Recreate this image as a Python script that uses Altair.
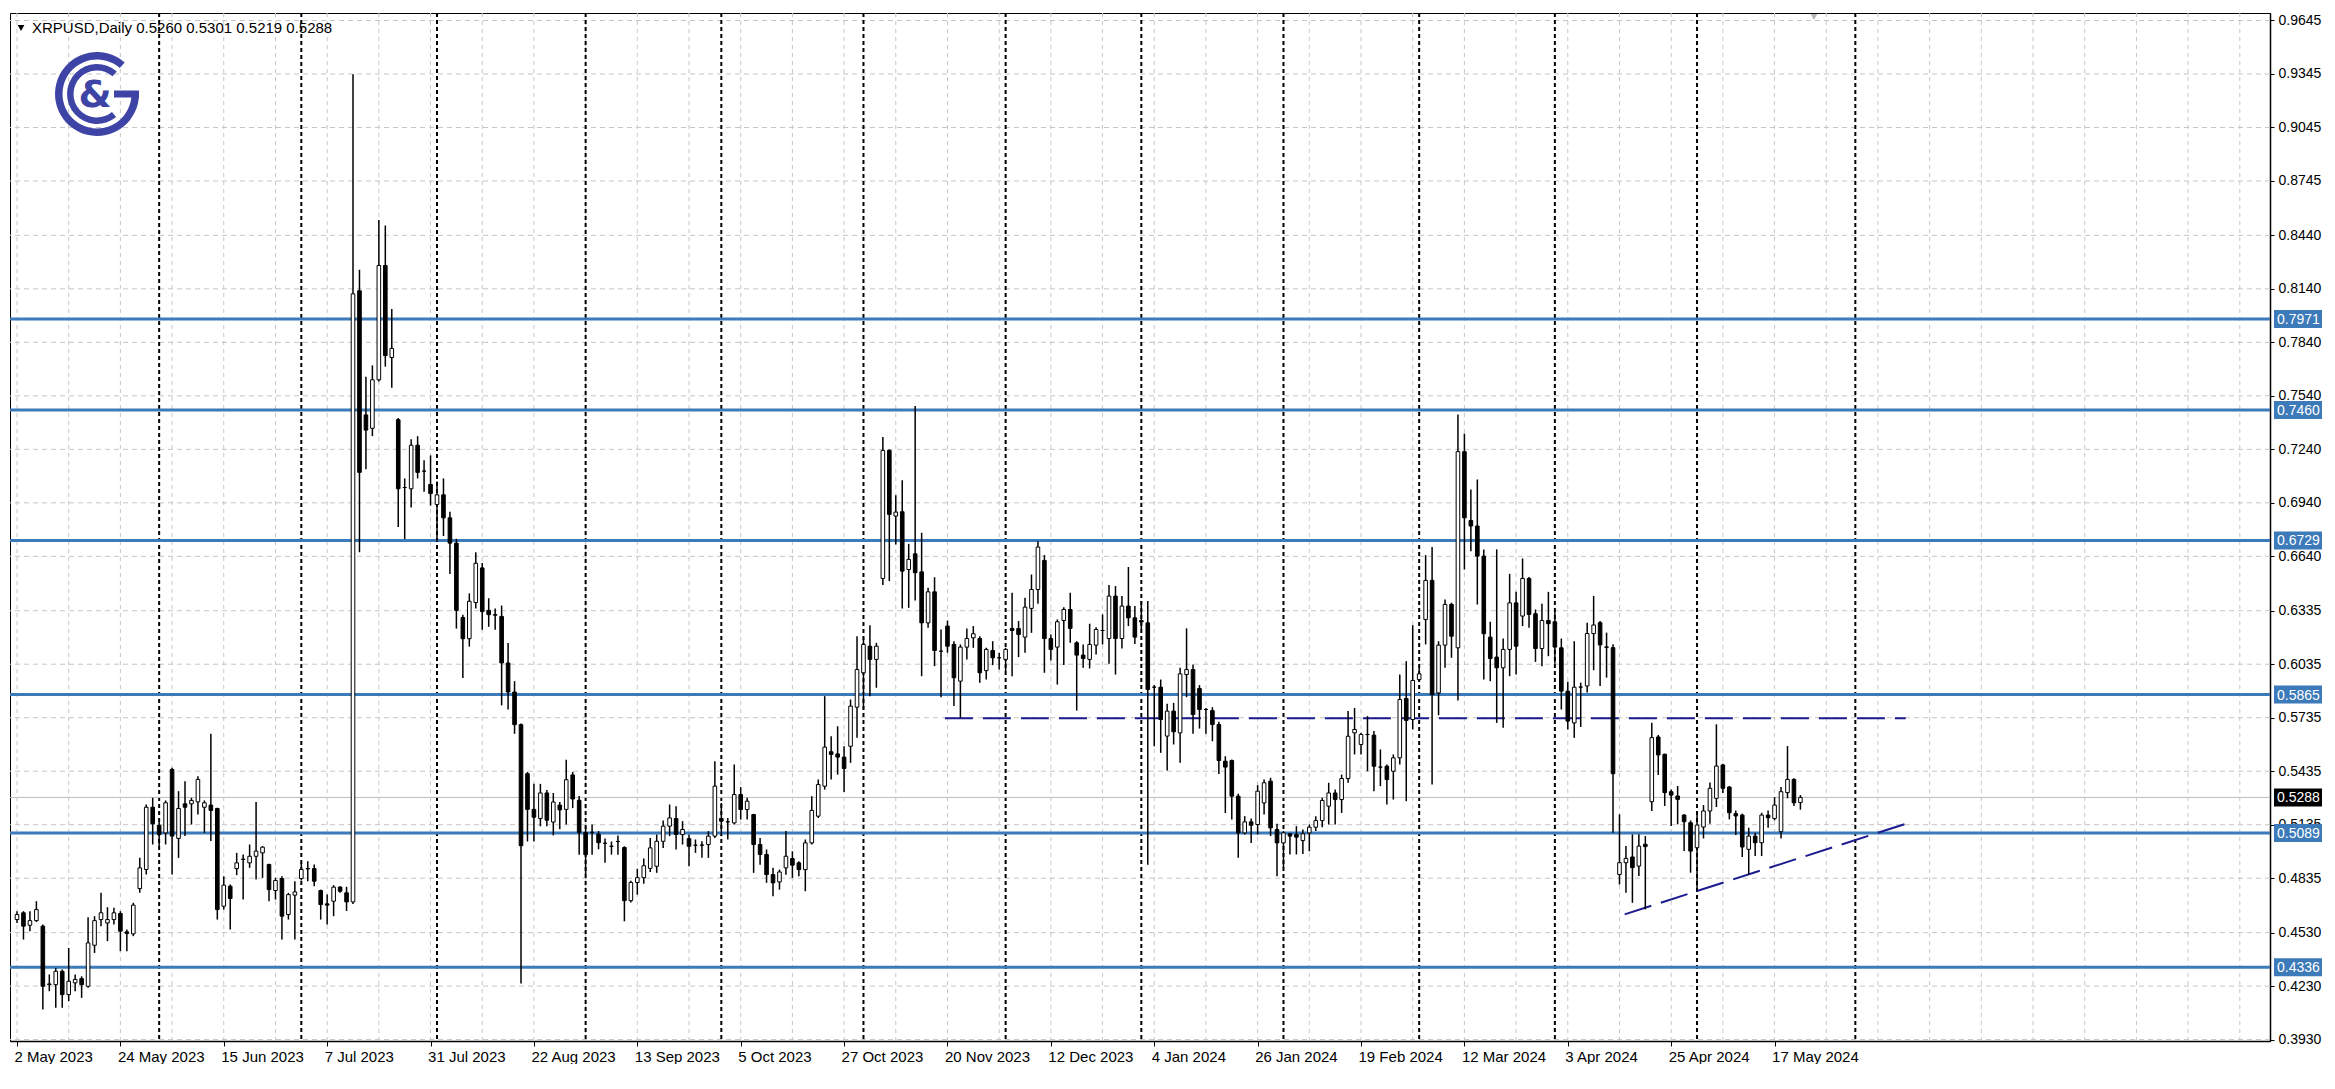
import math
import altair as alt
import pandas as pd

# ---------------- data ----------------
opens = [0.4603,0.4641,0.4571,0.4597,0.4566,0.4238,0.4238,0.4313,0.4182,0.4248,
0.4272,0.4229,0.4459,0.4603,0.4584,0.4603,0.4637,0.4534,0.4523,0.4777,
0.4884,0.5233,0.5132,0.5089,0.5445,0.5058,0.5252,0.5252,0.5263,0.5233,
0.5245,0.5226,0.4678,0.4790,0.4889,0.4940,0.4921,0.4958,0.4977,0.4912,
0.4766,0.4833,0.4631,0.4740,0.4833,0.4889,0.4889,0.4766,0.4691,0.4706,
0.4785,0.4753,0.4702,0.8129,0.7433,0.7358,0.7630,0.8271,0.7755,0.7406,
0.7026,0.7019,0.7263,0.7118,0.7043,0.6931,0.6985,0.6856,0.6714,0.6297,
0.6178,0.6381,0.6575,0.6337,0.6313,0.6303,0.6042,0.5879,0.5696,0.5421,
0.5221,0.5170,0.5313,0.5150,0.5245,0.5221,0.5414,0.5272,0.5092,0.5092,
0.5082,0.5031,0.5014,0.5041,0.5007,0.4709,0.4811,0.4838,0.4890,0.4902,
0.5042,0.5127,0.5170,0.5080,0.5057,0.5020,0.5020,0.5024,0.5071,0.5170,
0.5151,0.5145,0.5304,0.5220,0.5192,0.5024,0.4968,0.4855,0.4814,0.4893,
0.4945,0.4921,0.4883,0.5033,0.5183,0.5351,0.5544,0.5532,0.5514,0.5575,
0.5794,0.5987,0.6136,0.6062,0.6516,0.7234,0.6866,0.6890,0.6566,0.6654,
0.6553,0.6267,0.6441,0.6108,0.6249,0.6146,0.5940,0.6131,0.6183,0.6179,
0.5999,0.6112,0.6071,0.6062,0.6236,0.6235,0.6187,0.6348,0.6454,0.6617,
0.6179,0.6131,0.6280,0.6342,0.6155,0.6086,0.6062,0.6142,0.6224,0.6179,
0.6417,0.6179,0.6361,0.6295,0.6280,0.6267,0.5906,0.5906,0.5632,0.5772,
0.5650,0.5977,0.6005,0.5899,0.5781,0.5775,0.5697,0.5491,0.5495,0.5295,
0.5089,0.5151,0.5136,0.5257,0.5379,0.5108,0.5033,0.5084,0.5080,0.5046,
0.5089,0.5121,0.5158,0.5239,0.5313,0.5276,0.5394,0.5650,0.5585,0.5641,
0.5637,0.5458,0.5463,0.5435,0.5510,0.5843,0.5725,0.5949,0.6286,0.6505,
0.5874,0.6142,0.6370,0.6127,0.7227,0.6841,0.6810,0.6641,0.6187,0.6075,
0.6015,0.6118,0.6379,0.6305,0.6516,0.6318,0.6123,0.6280,0.6273,0.6127,
0.5884,0.5706,0.5907,0.5913,0.6207,0.6268,0.6132,0.6128,0.4856,0.4922,
0.4954,0.4903,0.5025,0.5264,0.5627,0.5530,0.5320,0.5296,0.5189,0.5146,
0.5006,0.5122,0.5212,0.5283,0.5470,0.5346,0.5197,0.5189,0.4997,0.5071,
0.5034,0.5189,0.5170,0.5096,0.5315,0.5389,0.5260]
highs = [0.4650,0.4650,0.4650,0.4706,0.4575,0.4295,0.4332,0.4323,0.4444,0.4295,
0.4285,0.4616,0.4622,0.4753,0.4672,0.4669,0.4650,0.4547,0.4697,0.4949,
0.5248,0.5286,0.5155,0.5271,0.5454,0.5323,0.5379,0.5286,0.5407,0.5271,
0.5645,0.5230,0.4846,0.4800,0.4977,0.4968,0.5024,0.5263,0.5015,0.4916,
0.4837,0.4846,0.4753,0.4818,0.4921,0.4930,0.4912,0.4771,0.4743,0.4796,
0.4790,0.4787,0.9343,0.8247,0.7647,0.7711,0.8526,0.8495,0.8027,0.7416,
0.7077,0.7297,0.7314,0.7179,0.7206,0.7060,0.7077,0.6890,0.6738,0.6313,
0.6432,0.6663,0.6602,0.6405,0.6347,0.6364,0.6154,0.5940,0.5703,0.5431,
0.5364,0.5364,0.5330,0.5313,0.5262,0.5499,0.5431,0.5296,0.5126,0.5136,
0.5099,0.5058,0.5041,0.5075,0.5014,0.4821,0.4888,0.4946,0.5060,0.5080,
0.5158,0.5248,0.5239,0.5155,0.5080,0.5052,0.5042,0.5099,0.5491,0.5257,
0.5173,0.5472,0.5346,0.5286,0.5196,0.5061,0.4996,0.4893,0.4883,0.5099,
0.4986,0.4930,0.5052,0.5295,0.5388,0.5856,0.5631,0.5687,0.5575,0.5837,
0.6192,0.6183,0.6254,0.6155,0.7309,0.7240,0.6982,0.7066,0.6710,0.7483,
0.6772,0.6464,0.6523,0.6230,0.6280,0.6164,0.6146,0.6235,0.6249,0.6192,
0.6127,0.6164,0.6099,0.6127,0.6436,0.6277,0.6408,0.6538,0.6725,0.6647,
0.6202,0.6286,0.6355,0.6436,0.6164,0.6146,0.6262,0.6243,0.6314,0.6479,
0.6473,0.6417,0.6580,0.6361,0.6389,0.6389,0.5918,0.5949,0.5813,0.5818,
0.6015,0.6236,0.6034,0.5918,0.5790,0.5794,0.5712,0.5519,0.5501,0.5308,
0.5183,0.5170,0.5357,0.5388,0.5398,0.5140,0.5099,0.5089,0.5127,0.5108,
0.5136,0.5183,0.5286,0.5370,0.5332,0.5416,0.5772,0.5790,0.5650,0.5744,
0.5660,0.5557,0.5472,0.5529,0.5977,0.6052,0.6254,0.6015,0.6647,0.6692,
0.6164,0.6398,0.6380,0.7436,0.7328,0.7015,0.7071,0.6679,0.6273,0.6679,
0.6179,0.6542,0.6441,0.6628,0.6524,0.6342,0.6374,0.6441,0.6336,0.6179,
0.5936,0.6164,0.5932,0.6268,0.6418,0.6278,0.6212,0.6147,0.5193,0.5015,
0.5081,0.5081,0.5071,0.5707,0.5638,0.5533,0.5333,0.5352,0.5193,0.5159,
0.5212,0.5245,0.5371,0.5698,0.5477,0.5352,0.5215,0.5197,0.5118,0.5090,
0.5202,0.5215,0.5290,0.5346,0.5576,0.5395,0.5301]
lows = [0.4584,0.4491,0.4538,0.4590,0.4098,0.4201,0.4108,0.4108,0.4145,0.4201,
0.4164,0.4220,0.4416,0.4566,0.4482,0.4575,0.4426,0.4426,0.4510,0.4753,
0.4856,0.5024,0.5009,0.5024,0.4856,0.4949,0.5071,0.5136,0.5192,0.5089,
0.5043,0.4603,0.4659,0.4547,0.4852,0.4715,0.4893,0.4827,0.4837,0.4706,
0.4715,0.4491,0.4603,0.4491,0.4822,0.4818,0.4790,0.4603,0.4575,0.4622,
0.4753,0.4651,0.4690,0.6663,0.7128,0.7314,0.7620,0.7704,0.7586,0.6805,
0.6737,0.6914,0.7077,0.7002,0.6924,0.6720,0.6754,0.6541,0.6235,0.5957,
0.6134,0.6347,0.6228,0.6245,0.6228,0.5804,0.5781,0.5645,0.4244,0.5041,
0.5041,0.5126,0.5126,0.5075,0.5109,0.5136,0.5228,0.4967,0.4854,0.4967,
0.4997,0.4922,0.4967,0.4967,0.4593,0.4699,0.4743,0.4804,0.4870,0.4865,
0.5005,0.5071,0.4996,0.5024,0.4902,0.4977,0.4949,0.4949,0.5061,0.5071,
0.5052,0.5136,0.5164,0.5164,0.4865,0.4911,0.4809,0.4734,0.4771,0.4855,
0.4837,0.4846,0.4762,0.5024,0.5173,0.5332,0.5388,0.5416,0.5319,0.5482,
0.5622,0.5781,0.5856,0.5903,0.6479,0.6501,0.6707,0.6348,0.6351,0.6393,
0.5968,0.6239,0.6024,0.5850,0.6099,0.5800,0.5734,0.6062,0.6127,0.5931,
0.5949,0.6030,0.6005,0.5996,0.5968,0.6075,0.6099,0.6211,0.6374,0.5987,
0.6056,0.5921,0.6030,0.6155,0.5775,0.6015,0.6011,0.6090,0.6146,0.6037,
0.5977,0.6123,0.6249,0.6149,0.6230,0.4911,0.5575,0.5538,0.5439,0.5585,
0.5482,0.5850,0.5645,0.5674,0.5645,0.5603,0.5420,0.5201,0.5164,0.4949,
0.5080,0.5033,0.5080,0.5192,0.5071,0.4846,0.4893,0.4968,0.4968,0.4971,
0.4986,0.5099,0.5121,0.5136,0.5136,0.5201,0.5370,0.5529,0.5529,0.5435,
0.5323,0.5351,0.5248,0.5276,0.5472,0.5267,0.5669,0.5940,0.6146,0.5360,
0.5749,0.6015,0.6071,0.5832,0.6566,0.6669,0.6370,0.5949,0.5940,0.5706,
0.5678,0.5968,0.5977,0.6249,0.6239,0.6048,0.6024,0.6080,0.6037,0.5781,
0.5669,0.5622,0.5683,0.5876,0.6001,0.5913,0.5960,0.5090,0.4800,0.4754,
0.4697,0.4847,0.4660,0.5212,0.5414,0.5240,0.5128,0.5137,0.4987,0.4866,
0.4772,0.5058,0.5141,0.5234,0.5313,0.5165,0.5077,0.4954,0.4856,0.4959,
0.4959,0.5118,0.5159,0.5058,0.5283,0.5240,0.5219]
closes = [0.4631,0.4566,0.4597,0.4659,0.4229,0.4242,0.4313,0.4182,0.4257,0.4267,
0.4238,0.4472,0.4597,0.4641,0.4603,0.4641,0.4538,0.4525,0.4684,0.4893,
0.5233,0.5140,0.5080,0.5258,0.5071,0.5226,0.5233,0.5271,0.5389,0.5258,
0.5215,0.4659,0.4796,0.4721,0.4921,0.4942,0.4958,0.4987,0.5009,0.4771,
0.4822,0.4622,0.4743,0.4758,0.4884,0.4887,0.4818,0.4687,0.4684,0.4785,
0.4762,0.4702,0.8112,0.7111,0.7348,0.7630,0.8271,0.7766,0.7806,0.7019,
0.7026,0.7263,0.7111,0.7118,0.6992,0.6985,0.6856,0.6714,0.6337,0.6178,
0.6388,0.6601,0.6330,0.6313,0.6310,0.6042,0.5879,0.5696,0.5017,0.5221,
0.5177,0.5313,0.5160,0.5262,0.5218,0.5387,0.5279,0.5092,0.4967,0.5092,
0.5034,0.5031,0.5014,0.5041,0.4709,0.4811,0.4838,0.4905,0.5005,0.5042,
0.5127,0.5173,0.5080,0.5108,0.5014,0.5020,0.5021,0.5071,0.5351,0.5155,
0.5151,0.5304,0.5220,0.5267,0.5024,0.4968,0.4855,0.4809,0.4870,0.4958,
0.4908,0.4883,0.5033,0.5215,0.5360,0.5570,0.5529,0.5514,0.5450,0.5800,
0.6005,0.6146,0.6062,0.6136,0.7234,0.6875,0.6888,0.6557,0.6623,0.6548,
0.6267,0.6441,0.6112,0.6108,0.6136,0.5959,0.6131,0.6179,0.6206,0.5987,
0.6118,0.6071,0.6071,0.6118,0.6224,0.6202,0.6355,0.6454,0.6692,0.6179,
0.6118,0.6273,0.6342,0.6236,0.6086,0.6067,0.6146,0.6230,0.6224,0.6417,
0.6179,0.6361,0.6295,0.6187,0.6272,0.5893,0.5906,0.5725,0.5772,0.5656,
0.5981,0.6005,0.5753,0.5781,0.5781,0.5697,0.5495,0.5458,0.5295,0.5089,
0.5151,0.5132,0.5323,0.5370,0.5117,0.5033,0.5089,0.5071,0.5065,0.5084,
0.5121,0.5158,0.5271,0.5313,0.5276,0.5394,0.5631,0.5669,0.5641,0.5641,
0.5463,0.5458,0.5388,0.5510,0.5837,0.5720,0.5944,0.5981,0.6505,0.5865,
0.6142,0.6370,0.6192,0.7227,0.6856,0.6810,0.6641,0.6206,0.6067,0.6015,
0.6118,0.6379,0.6136,0.6516,0.6314,0.6123,0.6280,0.6262,0.6131,0.5884,
0.5716,0.5906,0.5907,0.6207,0.6255,0.6143,0.6130,0.5421,0.4922,0.4946,
0.4894,0.5015,0.5012,0.5623,0.5526,0.5315,0.5301,0.5277,0.5152,0.4987,
0.5133,0.5212,0.5339,0.5464,0.5339,0.5202,0.5184,0.5010,0.5071,0.5034,
0.5189,0.5174,0.5245,0.5320,0.5389,0.5258,0.5288]

x_labels = ["2 May 2023", "24 May 2023", "15 Jun 2023", "7 Jul 2023", "31 Jul 2023",
            "22 Aug 2023", "13 Sep 2023", "5 Oct 2023", "27 Oct 2023", "20 Nov 2023",
            "12 Dec 2023", "4 Jan 2024", "26 Jan 2024", "19 Feb 2024", "12 Mar 2024",
            "3 Apr 2024", "25 Apr 2024", "17 May 2024"]
y_ticks = [0.9645, 0.9345, 0.9045, 0.8745, 0.8440, 0.8140, 0.7840, 0.7540, 0.7240, 0.6940,
           0.6640, 0.6335, 0.6035, 0.5735, 0.5435, 0.5135, 0.4835, 0.4530, 0.4230, 0.3930]
levels = [0.7971, 0.7460, 0.6729, 0.5865, 0.5089, 0.4336]
current_price = 0.5288
month_starts = [22, 44, 65, 88, 109, 131, 153, 174, 196, 217, 238, 260, 284.5]
grid_bars = list(range(0, 348, 8))
neckline = {"i0": 143.6, "i1": 292.3, "p": 0.5732}
trend = {"i0": 248.8, "p0": 0.4632, "i1": 292.8, "p1": 0.5146}
header = "XRPUSD,Daily  0.5260 0.5301 0.5219 0.5288"

# ---------------- chart ----------------
W, H = 2260, 1028
FONT = "Liberation Sans"
LEVEL_BLUE = "#3c7ab9"
NAVY = "#1b1b8f"
LOGO = "#3d44a6"

n = len(opens)
df = pd.DataFrame({"i": list(range(n)), "o": opens, "h": highs, "l": lows, "c": closes})
df["up"] = df["c"] >= df["o"]

xs = alt.Scale(domain=[-0.31, 347.9], nice=False, zero=False)
ys = alt.Scale(domain=[0.3922, 0.9687], nice=False, zero=False)

label_expr = "[" + ",".join("'%s'" % s for s in x_labels) + "][round(datum.value / 16)]"
x_axis = alt.Axis(values=[16 * k for k in range(len(x_labels))], labelExpr=label_expr,
                  title=None, grid=False, orient="bottom", labelAlign="left", labelOffset=-3,
                  labelFont=FONT, labelFontSize=15, labelColor="black", labelPadding=3,
                  tickColor="black", tickSize=5, domainColor="black", domainWidth=1.5,
                  labelOverlap=False, labelFlush=False, labelBound=False)
y_axis = alt.Axis(values=y_ticks, format=".4f", title=None, grid=False, orient="right",
                  labelFont=FONT, labelFontSize=14, labelColor="black", labelPadding=4,
                  tickColor="black", tickSize=4, domainColor="black", domainWidth=1.5,
                  labelOverlap=False, labelFlush=False, labelBound=False)


def X(f, **kw):
    return alt.X(f, type="quantitative", scale=xs, axis=x_axis, **kw)


def Y(f, **kw):
    return alt.Y(f, type="quantitative", scale=ys, axis=y_axis, **kw)


vgrid = alt.Chart(pd.DataFrame({"v": grid_bars})).mark_rule(
    color="#c6c6c6", strokeDash=[4, 4], strokeWidth=1).encode(x=X("v"))
hgrid = alt.Chart(pd.DataFrame({"p": y_ticks})).mark_rule(
    color="#c6c6c6", strokeDash=[5, 4], strokeWidth=1).encode(y=Y("p"))
months = alt.Chart(pd.DataFrame({"m": month_starts})).mark_rule(
    color="black", strokeDash=[4, 3], strokeWidth=2).encode(x=X("m"))
lvl = alt.Chart(pd.DataFrame({"p": levels})).mark_rule(
    color=LEVEL_BLUE, strokeWidth=3).encode(y=Y("p"))
cur = alt.Chart(pd.DataFrame({"p": [current_price]})).mark_rule(
    color="#bcbcbc", strokeWidth=1).encode(y=Y("p"))
neck = alt.Chart(pd.DataFrame([neckline])).mark_rule(
    color=NAVY, strokeDash=[28, 10], strokeWidth=2).encode(
    x=X("i0"), x2="i1", y=Y("p"))
trd = alt.Chart(pd.DataFrame([trend])).mark_rule(
    color=NAVY, strokeDash=[28, 10], strokeWidth=2).encode(
    x=X("i0"), x2="i1", y=Y("p0"), y2="p1")

wicks = alt.Chart(df).mark_rule(color="black", strokeWidth=1.5).encode(
    x=X("i"), y=Y("l"), y2="h")
bodies = alt.Chart(df).mark_bar(size=3.6, stroke="black", strokeWidth=1).encode(
    x=X("i"), y=Y("o"), y2="c",
    fill=alt.condition("datum.up", alt.value("white"), alt.value("black")))

# price label boxes on the right axis
lvl_df = pd.DataFrame({"p": levels, "t": ["%.4f" % v for v in levels]})
lvl_box = alt.Chart(lvl_df).mark_rect(color=LEVEL_BLUE, yOffset=-9, y2Offset=9).encode(
    x=alt.value(W + 4), x2=alt.value(W + 52), y=Y("p"), y2="p")
lvl_txt = alt.Chart(lvl_df).mark_text(
    align="left", baseline="middle", color="white", font=FONT, fontSize=14, dy=1).encode(
    x=alt.value(W + 7), y=Y("p"), text="t:N")
cur_df = pd.DataFrame({"p": [current_price], "t": ["%.4f" % current_price]})
cur_box = alt.Chart(cur_df).mark_rect(color="black", yOffset=-9, y2Offset=9).encode(
    x=alt.value(W + 4), x2=alt.value(W + 52), y=Y("p"), y2="p")
cur_txt = alt.Chart(cur_df).mark_text(
    align="left", baseline="middle", color="white", font=FONT, fontSize=14, dy=1).encode(
    x=alt.value(W + 7), y=Y("p"), text="t:N")

# header
hdr_df = pd.DataFrame({"t": [header]})
hdr = alt.Chart(hdr_df).mark_text(
    align="left", baseline="middle", font=FONT, fontSize=15, color="black").encode(
    x=alt.value(22), y=alt.value(15), text="t:N")
hdr_tri = alt.Chart(hdr_df).mark_point(
    shape="triangle-down", filled=True, color="black", size=45, opacity=1).encode(
    x=alt.value(11), y=alt.value(15))
top_tri = alt.Chart(hdr_df).mark_point(
    shape="triangle-down", filled=True, color="#b5b5b5", size=45, opacity=1).encode(
    x=alt.value(1804), y=alt.value(4))

# logo
cx, cy = 87, 81
logo_outer = alt.Chart(hdr_df).mark_arc(
    radius=42, radius2=34.5, theta=math.pi / 2, theta2=2 * math.pi + 0.72, color=LOGO).encode(
    x=alt.value(cx), y=alt.value(cy))
logo_bar = alt.Chart(hdr_df).mark_rect(color=LOGO).encode(
    x=alt.value(cx + 17), x2=alt.value(cx + 42), y=alt.value(cy - 3.5), y2=alt.value(cy + 3.5))
logo_inner = alt.Chart(hdr_df).mark_arc(
    radius=30, radius2=23.5, theta=2.45, theta2=2 * math.pi + 0.72, color=LOGO).encode(
    x=alt.value(cx), y=alt.value(cy))
logo_amp = alt.Chart(pd.DataFrame({"t": ["&"]})).mark_text(
    align="center", baseline="middle", font="DejaVu Sans", fontSize=38, fontWeight="bold",
    color=LOGO).encode(x=alt.value(cx - 2), y=alt.value(cy + 2), text="t:N")

chart = alt.layer(
    vgrid, hgrid, months, lvl, cur, neck, trd, wicks, bodies,
    lvl_box, lvl_txt, cur_box, cur_txt, hdr, hdr_tri, top_tri,
    logo_outer, logo_bar, logo_inner, logo_amp
).properties(
    width=W, height=H,
    padding={"left": 0, "top": 4, "right": 0, "bottom": 0},
    background="white"
).configure_view(stroke="black", strokeWidth=1)

chart.save("out.html", embed_options={"renderer": "svg", "actions": False})
